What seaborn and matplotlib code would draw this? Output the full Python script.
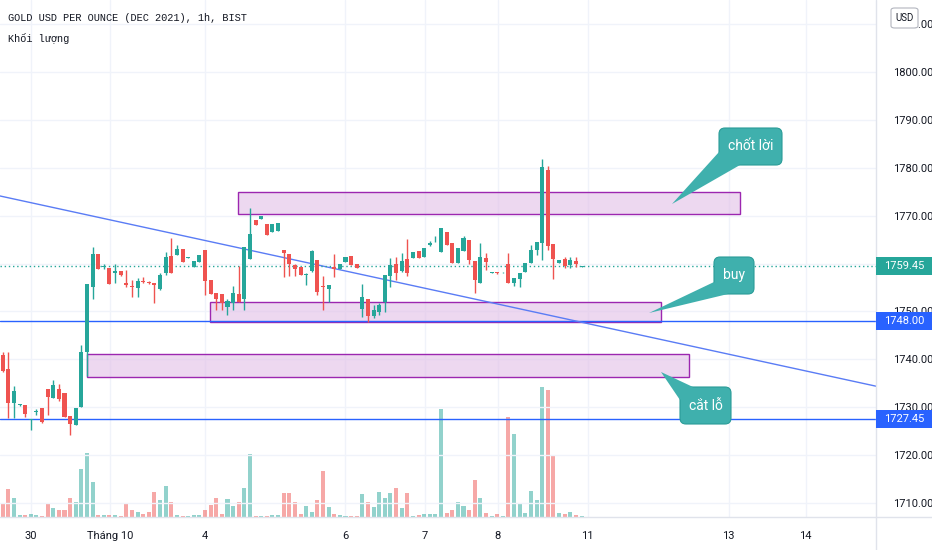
import numpy as np
import pandas as pd
import matplotlib
matplotlib.use("Agg")
import matplotlib.pyplot as plt
import matplotlib.transforms as mtransforms
from matplotlib.patches import Rectangle, FancyBboxPatch, Polygon
import seaborn as sns

# ---------------- data ----------------
opens = [1740.9, 1738.0, 1730.8, 1730.5, 1730.5, 1727.4, 1729.0, 1729.8, 1733.9, 1732.0,
         1733.9, 1733.0, 1728.2, 1726.3, 1730.1, 1741.5, 1755.2, 1762.0, 1759.3, 1759.0,
         1758.0, 1758.5, 1755.9, 1755.3, 1754.8, 1756.4, 1756.2, 1756.0, 1754.6, 1758.0,
         1761.6, 1761.8, 1763.0, 1761.2, 1759.2, 1760.4, 1762.8, 1756.6, 1753.9, 1753.6,
         1750.9, 1751.8, 1753.6, 1752.5, 1760.9, 1769.0, 1769.2, 1768.3, 1766.5, 1766.7,
         1762.8, 1762.0, 1759.7, 1759.2, 1757.6, 1758.5, 1760.7, 1755.4, 1754.7, 1759.2,
         1758.8, 1760.4, 1761.6, 1759.8, 1750.6, 1752.5, 1749.0, 1749.9, 1751.9, 1757.3,
         1760.0, 1758.5, 1761.0, 1761.1, 1762.6, 1761.3, 1763.9, 1764.6, 1762.5, 1766.5,
         1764.2, 1760.1, 1762.7, 1764.9, 1760.5, 1755.9, 1761.1, 1758.1, 1758.2, 1758.0,
         1759.8, 1756.0, 1756.7, 1758.3, 1760.2, 1762.8, 1764.2, 1779.5, 1764.0, 1760.1,
         1760.9, 1759.6, 1760.6, 1759.3]
highs = [1741.6, 1741.6, 1734.4, 1730.7, 1730.5, 1727.5, 1729.6, 1729.8, 1733.9, 1735.7,
         1734.8, 1733.0, 1728.2, 1729.8, 1743.0, 1755.7, 1763.5, 1762.0, 1759.8, 1759.0,
         1759.8, 1758.5, 1758.6, 1756.6, 1757.0, 1757.2, 1756.3, 1756.0, 1758.0, 1762.5,
         1765.3, 1763.9, 1763.0, 1761.3, 1760.6, 1761.7, 1762.8, 1756.6, 1753.9, 1753.6,
         1752.5, 1755.3, 1759.4, 1763.5, 1771.5, 1769.0, 1769.9, 1768.3, 1768.3, 1768.5,
         1762.8, 1762.0, 1760.0, 1759.2, 1758.0, 1762.8, 1760.7, 1757.3, 1755.6, 1762.0,
         1759.9, 1761.4, 1761.6, 1759.8, 1755.7, 1752.5, 1751.3, 1751.7, 1757.6, 1761.1,
         1761.4, 1762.2, 1765.1, 1762.5, 1762.6, 1763.2, 1764.7, 1765.8, 1767.5, 1766.5,
         1764.2, 1763.2, 1765.8, 1764.9, 1760.5, 1764.2, 1762.1, 1758.2, 1758.2, 1758.2,
         1762.1, 1756.9, 1758.0, 1760.1, 1763.9, 1764.5, 1781.8, 1780.4, 1764.0, 1760.7,
         1761.4, 1761.4, 1761.4, 1759.5]
lows = [1737.4, 1727.7, 1727.7, 1730.3, 1728.0, 1725.2, 1728.4, 1726.8, 1728.4, 1732.0,
        1731.4, 1728.0, 1724.2, 1726.3, 1730.1, 1736.5, 1752.7, 1758.9, 1758.8, 1755.7,
        1755.9, 1757.3, 1755.2, 1753.1, 1753.1, 1756.0, 1755.8, 1751.7, 1754.5, 1757.6,
        1758.1, 1761.8, 1760.4, 1761.1, 1759.2, 1760.4, 1753.4, 1753.6, 1750.4, 1750.4,
        1749.3, 1750.3, 1752.0, 1750.3, 1760.9, 1768.1, 1769.2, 1766.0, 1766.5, 1766.7,
        1757.1, 1757.4, 1757.3, 1757.6, 1755.5, 1758.3, 1753.4, 1750.4, 1752.0, 1757.1,
        1758.8, 1760.4, 1759.7, 1759.0, 1748.9, 1747.7, 1748.6, 1749.3, 1749.9, 1755.2,
        1756.6, 1758.3, 1757.3, 1761.1, 1761.1, 1761.3, 1763.7, 1764.5, 1762.5, 1763.9,
        1760.1, 1760.1, 1762.7, 1760.0, 1753.8, 1755.9, 1758.7, 1758.0, 1757.9, 1758.0,
        1756.0, 1755.3, 1755.2, 1758.3, 1760.2, 1761.8, 1760.7, 1762.8, 1756.7, 1760.1,
        1759.0, 1759.0, 1759.2, 1759.2]
closes = [1737.6, 1730.8, 1733.5, 1730.6, 1728.7, 1727.5, 1729.3, 1726.9, 1732.2, 1734.6,
          1731.7, 1728.0, 1726.5, 1729.8, 1741.6, 1755.7, 1762.0, 1758.9, 1759.5, 1755.7,
          1758.5, 1757.7, 1755.5, 1755.0, 1756.4, 1756.1, 1755.9, 1755.5, 1757.6, 1761.3,
          1758.1, 1763.0, 1760.4, 1761.25, 1760.6, 1761.7, 1756.4, 1753.6, 1752.6, 1751.7,
          1752.2, 1753.9, 1752.0, 1763.5, 1766.2, 1768.1, 1769.9, 1766.0, 1768.3, 1768.5,
          1762.1, 1759.9, 1758.8, 1757.6, 1757.7, 1762.6, 1754.1, 1755.2, 1755.5, 1758.8,
          1759.9, 1761.4, 1759.7, 1759.0, 1753.1, 1749.0, 1750.2, 1751.3, 1757.6, 1759.7,
          1758.0, 1760.5, 1758.1, 1762.5, 1761.1, 1763.2, 1764.2, 1764.7, 1767.4, 1763.9,
          1760.1, 1763.2, 1765.3, 1760.8, 1756.6, 1761.4, 1760.4, 1758.2, 1758.0, 1758.1,
          1756.0, 1756.9, 1758.0, 1760.1, 1762.8, 1764.5, 1780.1, 1763.7, 1760.9, 1760.7,
          1759.5, 1760.7, 1759.9, 1759.45]
volumes = [40, 85, 56, 5, 5, 10, 7, 4, 40, 26,
           20, 22, 58, 46, 144, 193, 105, 7, 7, 7,
           7, 4, 40, 22, 16, 10, 16, 76, 52, 94,
           46, 7, 4, 4, 7, 5, 22, 36, 58, 10,
           55, 33, 46, 88, 190, 4, 4, 4, 7, 7,
           72, 72, 46, 10, 33, 16, 52, 138, 30, 10,
           7, 4, 4, 4, 68, 46, 30, 75, 58, 72,
           88, 26, 72, 4, 7, 10, 10, 10, 323, 13,
           22, 46, 33, 20, 112, 58, 13, 4, 10, 4,
           300, 248, 40, 13, 78, 52, 390, 381, 183, 13,
           10, 16, 7, 4]

tick_labels = ["30", "Tháng 10", "4", "6", "7", "8", "11", "13", "14"]
tick_pos = [6.0, 20.1, 37.0, 61.9, 76.1, 89.1, 105.1, 130.2, 143.9]
price_ticks = [1710, 1720, 1730, 1740, 1750, 1760, 1770, 1780, 1790, 1800, 1810]
last_price = 1759.45
level_lines = [1748.00, 1727.45]
trend_x = [0.52, 156.4]
trend_y = [1774.1, 1734.4]
zones_x0 = [42.9, 37.9, 16.0]
zones_x1 = [132.2, 118.1, 123.1]
zones_lo = [1770.4, 1747.8, 1736.3]
zones_hi = [1774.9, 1752.0, 1741.1]
callout_texts = ["chốt lời", "buy", "cắt lỗ"]

title_text = "GOLD USD PER OUNCE (DEC 2021), 1h, BIST"
sub_text = "Khối lượng"

# ---------------- style ----------------
sns.set_theme(style="white")
plt.rcParams['font.family'] = ['Roboto', 'DejaVu Sans']

UP = "#26a69a"
DOWN = "#ef5350"
GRID = "#f0f3fa"
TXT = "#131722"

W, H = 932, 550
PW, PH = 876, 517
fig = plt.figure(figsize=(W / 100, H / 100), dpi=100)
fig.patch.set_facecolor("white")

axv = fig.add_axes([0, (H - PH) / H, PW / W, PH / H])
ax = axv.twinx()
axv.set_zorder(0)
ax.set_zorder(1)
ax.patch.set_visible(False)
axv.set_facecolor("white")

n = len(opens)
idx = np.arange(1, n + 1)
o = np.array(opens); c = np.array(closes)
hi = np.array(highs); lo = np.array(lows)
up = c >= o

# volume (seaborn)
df = pd.DataFrame({"idx": idx, "vol": volumes,
                   "dir": np.where(up, "up", "down")})
sns.barplot(data=df, x="idx", y="vol", hue="dir", native_scale=True,
            palette={"up": UP, "down": DOWN}, alpha=0.5, saturation=1,
            width=0.72, dodge=False, errorbar=None, legend=False,
            linewidth=0, ax=axv)
axv.set_ylim(0, PH * 3)
axv.set_xlim(trend_x[0], trend_x[1])
axv.set_yticks([])
axv.set_xlabel(""); axv.set_ylabel("")
axv.set_xticks(tick_pos)
axv.set_xticklabels(tick_labels)
axv.tick_params(axis="x", length=0, pad=10, labelsize=8, labelcolor=TXT)
axv.grid(axis="x", color=GRID, linewidth=1)
for s in axv.spines.values():
    s.set_visible(False)

# price axes (label hidden under the last-price tag is left blank)
ax.set_xlim(trend_x[0], trend_x[1])
ax.set_ylim(1707.1, 1815.0)
ax.set_yticks(price_ticks)
ax.set_yticklabels(["" if abs(p - last_price) < 2 else f"{p:.2f}"
                    for p in price_ticks])
ax.tick_params(axis="y", length=0, pad=12, labelsize=8, labelcolor=TXT)
ax.grid(axis="y", color=GRID, linewidth=1)
for s in ax.spines.values():
    s.set_visible(False)

# zones
for x0, x1, y0, y1 in zip(zones_x0, zones_x1, zones_lo, zones_hi):
    ax.add_patch(Rectangle((x0, y0), x1 - x0, y1 - y0, facecolor="#e1bee7",
                           alpha=0.6, edgecolor="none", zorder=2))
    ax.add_patch(Rectangle((x0, y0), x1 - x0, y1 - y0, facecolor="none",
                           edgecolor="#9c27b0", linewidth=1, zorder=2.1))

# level lines, trend line, last price line
for lv in level_lines:
    ax.axhline(lv, color="#2962ff", linewidth=1, zorder=3)
ax.plot(trend_x, trend_y, color="#5a7cf5", linewidth=1, zorder=3)
ax.axhline(last_price, color=UP, linewidth=1, linestyle=(0, (1, 2)), zorder=3)

# candles
col = np.where(up, UP, DOWN)
ax.vlines(idx, lo, hi, colors=col, linewidth=1, zorder=4)
body_h = np.maximum(np.abs(c - o), 0.12)
ax.bar(idx, body_h, bottom=np.minimum(o, c), width=0.72, color=col,
       linewidth=0, zorder=5)

# callouts in reference-pixel coordinates
pix = mtransforms.Affine2D().scale(1 / PW, -1 / PH).translate(0, 1) + ax.transAxes
callouts = [
    ((719, 128, 63, 37), [(719, 152), (740, 165), (672, 204)], (750.5, 146.5)),
    ((714, 257, 40, 37), [(714, 282), (728, 294), (649, 313)], (734, 275.5)),
    ((680, 387, 51, 37), [(680, 400), (693, 387), (661, 372)], (705.5, 405.5)),
]
CALL = "#3fb0ad"
CALL_E = "#2a9c98"
for (geom, tail, tpos), txt in zip(callouts, callout_texts):
    bx, by, bw, bh = geom
    tx, ty = tpos
    box = FancyBboxPatch((bx, by), bw, bh,
                         boxstyle="round,pad=0,rounding_size=6",
                         transform=pix, facecolor=CALL, edgecolor=CALL_E,
                         linewidth=0.8, zorder=8, clip_on=False)
    ax.add_patch(box)
    ax.add_patch(Polygon(tail, closed=True, transform=pix, facecolor=CALL,
                         edgecolor="none", zorder=8.1, clip_on=False))
    ax.text(tx, ty, txt, transform=pix, ha="center", va="center",
            color="white", fontsize=10, zorder=9)

# frame lines
fig.add_artist(plt.Line2D([PW / W, PW / W], [0, 1], transform=fig.transFigure,
                          color="#e0e3eb", linewidth=1))
fig.add_artist(plt.Line2D([0, 1], [(H - PH) / H, (H - PH) / H],
                          transform=fig.transFigure, color="#e0e3eb", linewidth=1))

# price tags on right axis
tagt = mtransforms.blended_transform_factory(fig.transFigure, ax.transData)
tag_h = 18 / 4.79
for price, colr in [(last_price, UP), (level_lines[0], "#2962ff"),
                    (level_lines[1], "#2962ff")]:
    r = Rectangle((PW / W, price - tag_h / 2), (W - PW) / W, tag_h,
                  transform=tagt, facecolor=colr, edgecolor="none",
                  clip_on=False, zorder=10)
    fig.add_artist(r)
    fig.text((PW + 28) / W, price, f"{price:.2f}", transform=tagt,
             ha="center", va="center", color="white", fontsize=8, zorder=11)

# USD box
fig.add_artist(FancyBboxPatch((891 / W, 1 - 28 / H), 27 / W, 20 / H,
                              boxstyle="round,pad=0,rounding_size=0.004",
                              transform=fig.transFigure, facecolor="white",
                              edgecolor="#b2b5be", linewidth=0.8, zorder=10))
fig.text(904.5 / W, 1 - 18 / H, "USD", ha="center", va="center",
         fontsize=7, color=TXT, zorder=11)

# header (monospace legend)
mono = ['Liberation Mono', 'DejaVu Sans Mono', 'DejaVu Sans']
fig.text(8 / W, 1 - 18 / H, title_text, ha="left", va="center",
         fontsize=7.4, color=TXT, family=mono)
fig.text(8 / W, 1 - 38 / H, sub_text, ha="left", va="center",
         fontsize=7.4, color=TXT, family=mono)

fig.savefig("out.png", dpi=100, facecolor="white")
